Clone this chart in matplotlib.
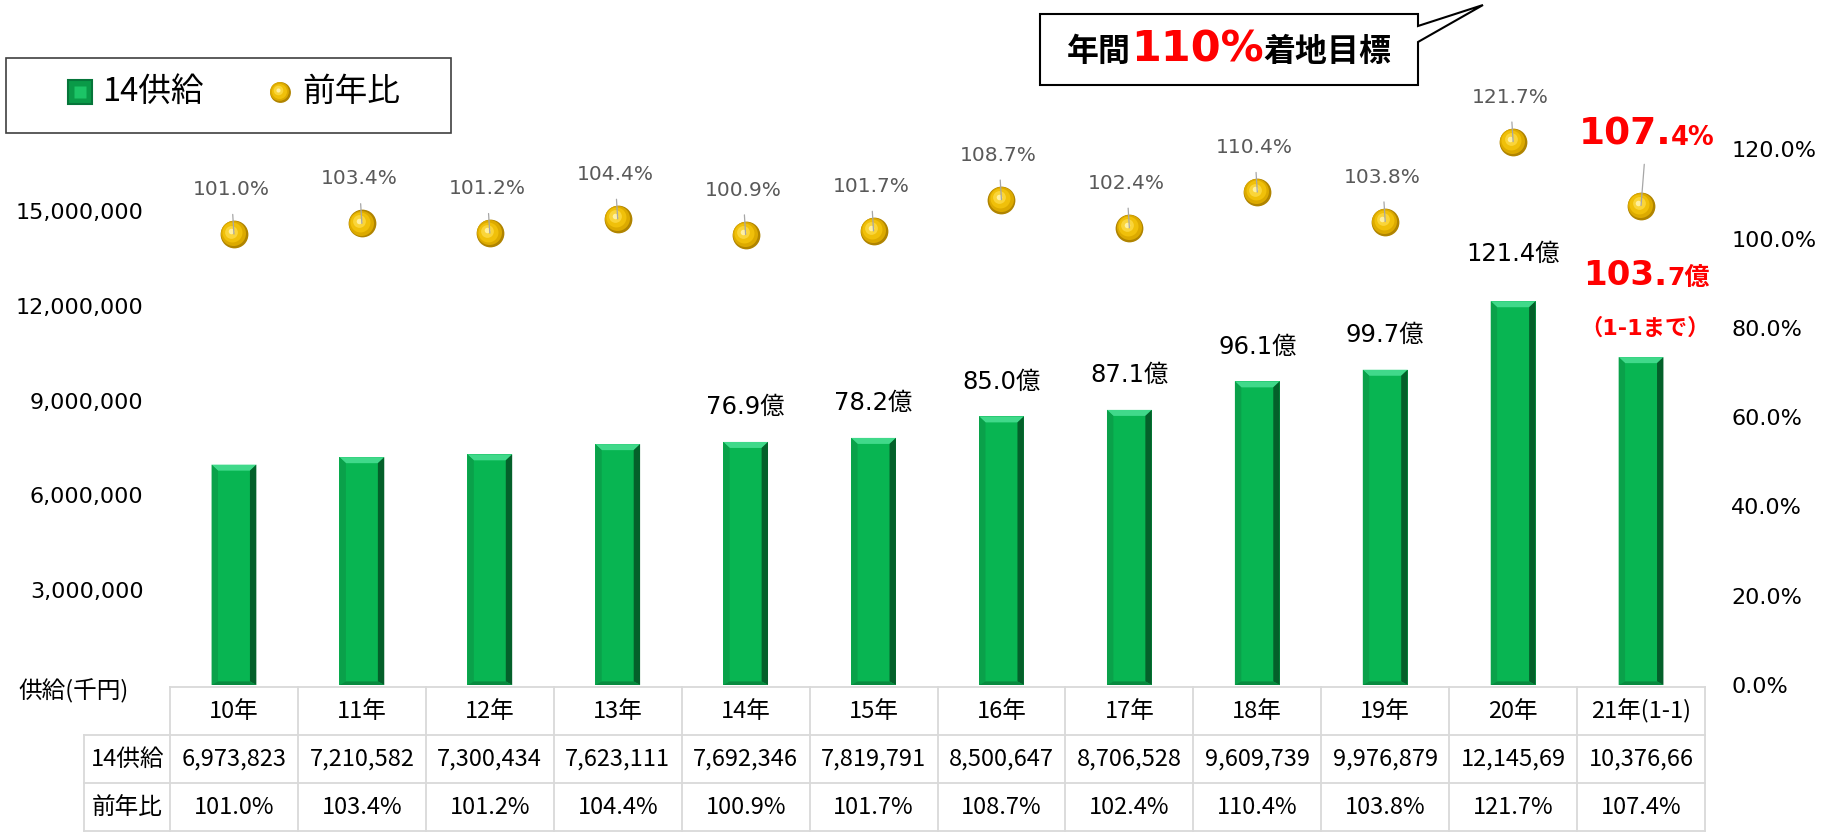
import numpy as np
import matplotlib
matplotlib.use('Agg')
import matplotlib.pyplot as plt
import matplotlib.transforms as mtransforms
from matplotlib.patches import Polygon, Rectangle
from matplotlib.lines import Line2D
from matplotlib.offsetbox import TextArea, HPacker, AnnotationBbox
from matplotlib.ticker import FuncFormatter

plt.rcParams['font.family'] = ['DejaVu Sans', 'Noto Sans CJK JP']

years = ['10年', '11年', '12年', '13年', '14年', '15年', '16年', '17年', '18年', '19年', '20年', '21年(1-1)']
supply = [6973823, 7210582, 7300434, 7623111, 7692346, 7819791, 8500647, 8706528,
          9609739, 9976879, 12145690, 10376660]
supply_text = ['6,973,823', '7,210,582', '7,300,434', '7,623,111', '7,692,346', '7,819,791',
               '8,500,647', '8,706,528', '9,609,739', '9,976,879', '12,145,69', '10,376,66']
ratio = [101.0, 103.4, 101.2, 104.4, 100.9, 101.7, 108.7, 102.4, 110.4, 103.8, 121.7, 107.4]
oku_labels = ['', '', '', '', '76.9億', '78.2億', '85.0億', '87.1億', '96.1億', '99.7億', '121.4億', '']
last_oku = ('103.', '7億')
last_ratio = ('107.', '4%')
last_note = '（1-1まで）'
callout = ('年間', '110%', '着地目標')

W, H = 1836, 836
fig = plt.figure(figsize=(W / 100, H / 100), dpi=100)


def fx(px):
    return px / W


def fy(py):
    return 1 - py / H


RED = '#ff0000'
GRID = '#d9d9d9'

ax = fig.add_axes([fx(170), fy(685), (1705 - 170) / W, (685 - 60) / H])
ax2 = ax.twinx()
x = np.arange(len(years))
bw = 0.35

# bars with a bevelled look
ax.bar(x, supply, bw, color='#08b552', edgecolor='none', zorder=2)
bx, by = 0.05, 190000
for xi, h in zip(x, supply):
    l, r = xi - bw / 2, xi + bw / 2
    ax.add_patch(Polygon([(l, h), (r, h), (r - bx, h - by), (l + bx, h - by)],
                         closed=True, color='#40d98a', lw=0, zorder=3))
    ax.add_patch(Polygon([(r, h), (r, 0), (r - bx, by * 0.6), (r - bx, h - by)],
                         closed=True, color='#04602a', lw=0, zorder=3))
    ax.add_patch(Polygon([(l, h), (l, 0), (l + bx, by * 0.6), (l + bx, h - by)],
                         closed=True, color='#0aa14a', lw=0, zorder=3))
    ax.add_patch(Polygon([(l, 0), (r, 0), (r - bx, by * 0.6), (l + bx, by * 0.6)],
                         closed=True, color='#088a3f', lw=0, zorder=3))

ax.set_xlim(-0.5, 11.5)
ax.set_ylim(0, 19.78e6)
ax.set_yticks([3e6, 6e6, 9e6, 12e6, 15e6])
ax.yaxis.set_major_formatter(FuncFormatter(lambda v, p: '{:,.0f}'.format(v)))
ax.tick_params(axis='y', length=0, pad=19, labelsize=16)
ax.set_xticks([])
for s in ax.spines.values():
    s.set_visible(False)

ax2.set_ylim(0, 140)
ax2.set_yticks(range(0, 121, 20))
ax2.yaxis.set_major_formatter(FuncFormatter(lambda v, p: '{:.1f}%'.format(v)))
ax2.tick_params(axis='y', length=0, pad=19, labelsize=16)
for s in ax2.spines.values():
    s.set_visible(False)


def draw_ball(target, xs, ys, base, d):
    layers = [(0, 1.0, '#b08400'), (-0.03, 0.9, '#dcaa00'), (-0.06, 0.72, '#f0c00a'),
              (-0.09, 0.46, '#fad53a'), (-0.1, 0.2, '#fff0a0')]
    for off, k, c in layers:
        tr = base + mtransforms.ScaledTranslation(off * d / 72, -off * d / 72, fig.dpi_scale_trans)
        ln = Line2D(xs, ys, linestyle='none', marker='o', ms=d * k, mfc=c, mec='none',
                    transform=tr, zorder=4)
        if target is fig:
            fig.add_artist(ln)
        else:
            target.add_line(ln)


draw_ball(ax2, x, ratio, ax2.transData, 20)

# ratio labels
for i in range(len(years) - 1):
    ax2.annotate('{:.1f}%'.format(ratio[i]), xy=(x[i], ratio[i]), xytext=(-2, 32),
                 textcoords='offset points', ha='center', va='center', fontsize=14.5,
                 color='#595959', zorder=6,
                 arrowprops=dict(arrowstyle='-', color='#a6a6a6', lw=0.9, shrinkA=9, shrinkB=0))

box = HPacker(children=[TextArea(last_ratio[0], textprops=dict(fontsize=27, weight='bold', color=RED)),
                        TextArea(last_ratio[1], textprops=dict(fontsize=18.5, weight='bold', color=RED))],
              align='baseline', pad=0, sep=0)
ab = AnnotationBbox(box, (x[-1], ratio[-1]), xybox=(4, 51), xycoords='data',
                    boxcoords='offset points', frameon=False, zorder=6,
                    arrowprops=dict(arrowstyle='-', color='#a6a6a6', lw=0.9, shrinkA=4, shrinkB=0))
ax2.add_artist(ab)

# supply labels
for i, lbl in enumerate(oku_labels):
    if lbl:
        dy = 34 if i == 10 else 25
        ax.annotate(lbl, xy=(x[i], supply[i]), xytext=(0, dy), textcoords='offset points',
                    ha='center', va='center', fontsize=17.5, zorder=6)

box = HPacker(children=[TextArea(last_oku[0], textprops=dict(fontsize=24.5, weight='bold', color=RED)),
                        TextArea(last_oku[1], textprops=dict(fontsize=18, weight='bold', color=RED))],
              align='baseline', pad=0, sep=0)
ax.add_artist(AnnotationBbox(box, (x[-1], supply[-1]), xybox=(4, 59), xycoords='data',
                             boxcoords='offset points', frameon=False, zorder=6))
ax.annotate(last_note, xy=(x[-1], supply[-1]), xytext=(3, 21), textcoords='offset points',
            ha='center', va='center', fontsize=16, weight='bold', color=RED)

# data table
tax = fig.add_axes([fx(170), fy(831), (1705 - 170) / W, (831 - 687) / H])
tax.set_xlim(-0.5, 11.5)
tax.set_ylim(0, 3)
tax.axis('off')
lab_l = -1.17
tax.plot([-0.5, 11.5], [3, 3], color=GRID, lw=1.3, clip_on=False)
for yy in [2, 1, 0]:
    tax.plot([lab_l, 11.5], [yy, yy], color=GRID, lw=1.3, clip_on=False)
tax.plot([lab_l, lab_l], [0, 2], color=GRID, lw=1.3, clip_on=False)
for k in range(len(years) + 1):
    tax.plot([k - 0.5, k - 0.5], [0, 3], color=GRID, lw=1.3, clip_on=False)
tfont = dict(family=['Noto Sans CJK JP'], fontsize=17, ha='center', va='center')
for i in range(len(years)):
    tax.text(x[i], 2.5, years[i], **tfont)
    tax.text(x[i], 1.5, supply_text[i], **tfont)
    tax.text(x[i], 0.5, '{:.1f}%'.format(ratio[i]), **tfont)
tax.text((lab_l - 0.5) / 2, 1.5, '14供給', **tfont)
tax.text((lab_l - 0.5) / 2, 0.5, '前年比', **tfont)

fig.text(fx(18), fy(691), '供給(千円)', family=['Noto Sans CJK JP'], fontsize=17,
         ha='left', va='center')

# legend
fig.add_artist(Rectangle((fx(6), fy(133)), (451 - 6) / W, (133 - 58) / H, transform=fig.transFigure,
                         fill=False, edgecolor='#404040', lw=1.2))
fig.add_artist(Line2D([fx(80)], [fy(92)], marker='s', ms=17, mfc='#0a9a48', mec='#06753a',
                      mew=1.5, linestyle='none', transform=fig.transFigure))
fig.add_artist(Line2D([fx(80)], [fy(92)], marker='s', ms=9, mfc='#1cc466', mec='none',
                      linestyle='none', transform=fig.transFigure))
fig.text(fx(102), fy(92), '14供給', family=['Noto Sans CJK JP'], fontsize=23.5, ha='left', va='center')
draw_ball(fig, [fx(280)], [fy(92)], fig.transFigure, 15)
fig.text(fx(302), fy(92), '前年比', family=['Noto Sans CJK JP'], fontsize=23.5, ha='left', va='center')

# callout
fig.add_artist(Polygon([(fx(1040), fy(14)), (fx(1418), fy(14)), (fx(1418), fy(26)), (fx(1483), fy(5)),
                        (fx(1418), fy(42)), (fx(1418), fy(85)), (fx(1040), fy(85))],
                       closed=True, transform=fig.transFigure, facecolor='white',
                       edgecolor='black', lw=1.5))
cbox = HPacker(children=[TextArea(callout[0], textprops=dict(fontsize=23, weight='bold', color='black')),
                         TextArea(callout[1], textprops=dict(fontsize=31, weight='bold', color=RED)),
                         TextArea(callout[2], textprops=dict(fontsize=23, weight='bold', color='black'))],
               align='baseline', pad=0, sep=0)
fig.add_artist(AnnotationBbox(cbox, (fx(1229), fy(49)), xycoords='figure fraction', frameon=False))

fig.savefig('out.png', dpi=100)
